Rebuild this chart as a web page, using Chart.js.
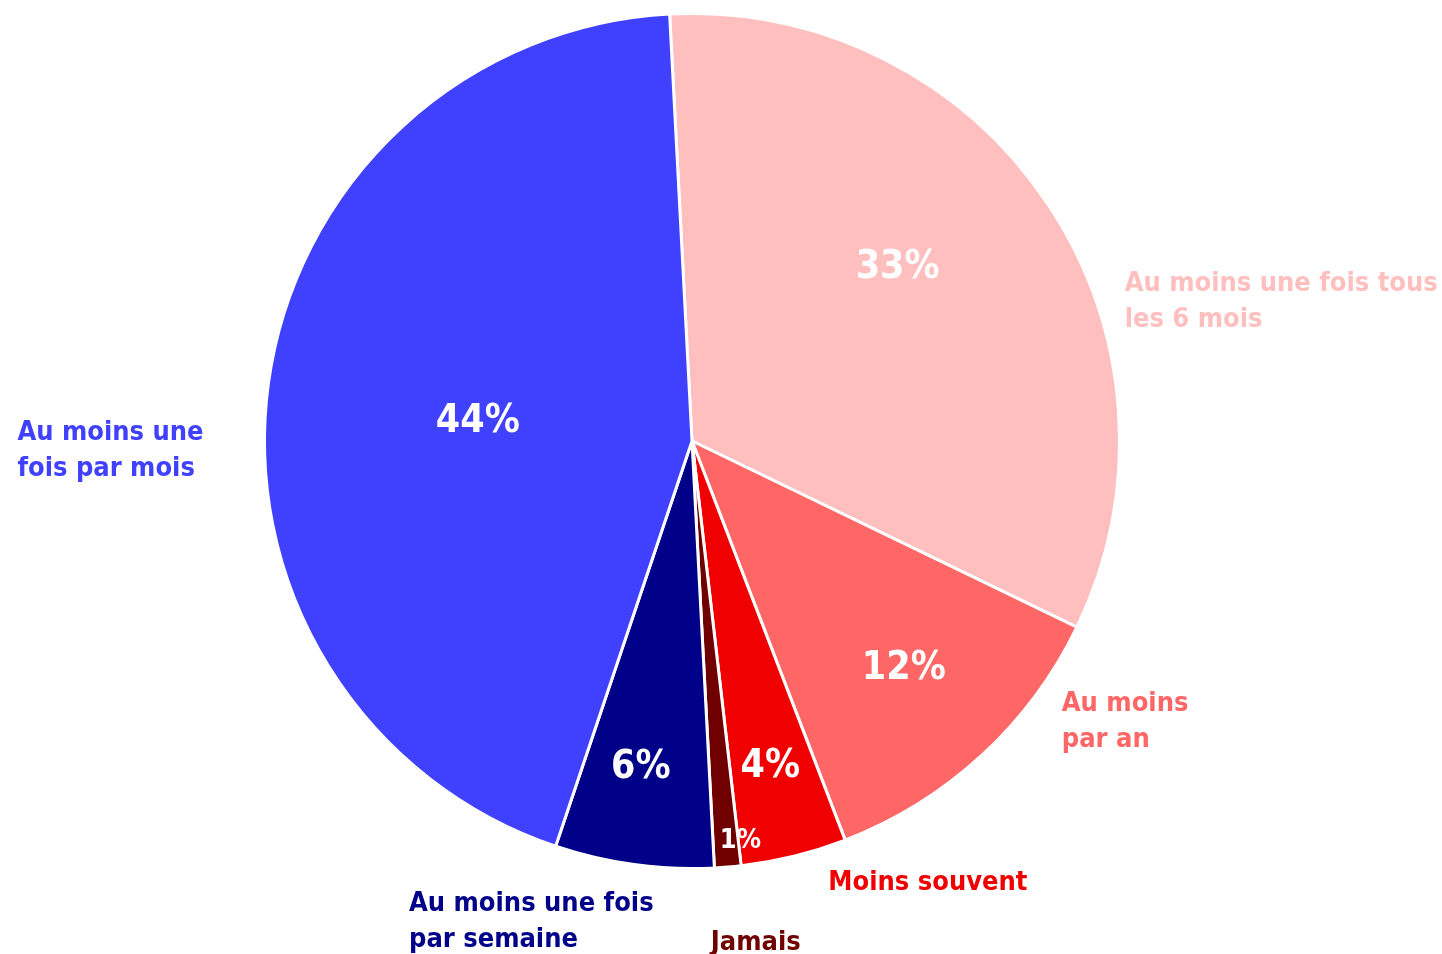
<!DOCTYPE html>
<html>
<head>
<meta charset="utf-8">
<script src="https://cdn.jsdelivr.net/npm/chart.js@4.4.1/dist/chart.umd.min.js"></script>
<style>
  html, body { margin: 0; padding: 0; background: #ffffff; }
  #wrap { width: 1442px; height: 954px; position: relative; }
</style>
</head>
<body>
<div id="wrap"><canvas id="c" width="1442" height="954"></canvas></div>
<script>
// ---- data ----
const categories = [
  "Au moins une fois tous les 6 mois",
  "Au moins par an",
  "Moins souvent",
  "Jamais",
  "Au moins une fois par semaine",
  "Au moins une fois par mois"
];
const labelLines = [
  ["Au moins une fois tous", "les 6 mois"],
  ["Au moins", "par an"],
  ["Moins souvent"],
  ["Jamais"],
  ["Au moins une fois", "par semaine"],
  ["Au moins une", "fois par mois"]
];
const values = [33, 12, 4, 1, 6, 44];
const percentLabels = ["33%", "12%", "4%", "1%", "6%", "44%"];
const colors = ["#FFBFBF", "#FF6666", "#F00000", "#700000", "#000088", "#4040FF"];

// ---- layout (in pie-radius units, relative to pie centre) ----
const pctPolar = [[49.9, 0.629], [137.1, 0.728], [166.5, 0.785], [173.1, 0.942], [188.9, 0.773], [275.05, 0.503]];
const pctSize = [39, 39, 39, 27, 39, 39];
const catOffset = [[1.012, -0.368], [0.865, 0.615], [0.319, 1.035], [0.044, 1.175], [-0.662, 1.082], [-1.578, -0.019]];
const FONT = '"DejaVu Sans Condensed", "DejaVu Sans", sans-serif';

const labelPlugin = {
  id: 'pieLabels',
  afterDatasetsDraw(chart) {
    const ctx = chart.ctx;
    const arcs = chart.getDatasetMeta(0).data;
    ctx.save();
    arcs.forEach((arc, i) => {
      const { x, y, outerRadius } = arc.getProps(['x', 'y', 'outerRadius'], true);
      const a = pctPolar[i][0] * Math.PI / 180;
      const r = pctPolar[i][1] * outerRadius;
      ctx.fillStyle = '#ffffff';
      ctx.font = 'bold ' + pctSize[i] + 'px ' + FONT;
      ctx.textAlign = 'center';
      ctx.textBaseline = 'middle';
      ctx.fillText(percentLabels[i], x + r * Math.sin(a), y - r * Math.cos(a));
      const lx = x + catOffset[i][0] * outerRadius;
      const ly = y + catOffset[i][1] * outerRadius;
      ctx.fillStyle = colors[i];
      ctx.font = 'bold 27px ' + FONT;
      ctx.textAlign = 'left';
      labelLines[i].forEach((t, k) => ctx.fillText(t, lx, ly + k * 36));
    });
    ctx.restore();
  }
};

new Chart(document.getElementById('c'), {
  type: 'pie',
  data: {
    labels: categories,
    datasets: [{
      data: values,
      backgroundColor: colors,
      borderColor: '#ffffff',
      borderWidth: 3
    }]
  },
  options: {
    responsive: false,
    animation: false,
    rotation: -3,
    layout: { padding: { left: 263, right: 321, top: 12, bottom: 84 } },
    plugins: { legend: { display: false }, tooltip: { enabled: false } }
  },
  plugins: [labelPlugin]
});
</script>
</body>
</html>
